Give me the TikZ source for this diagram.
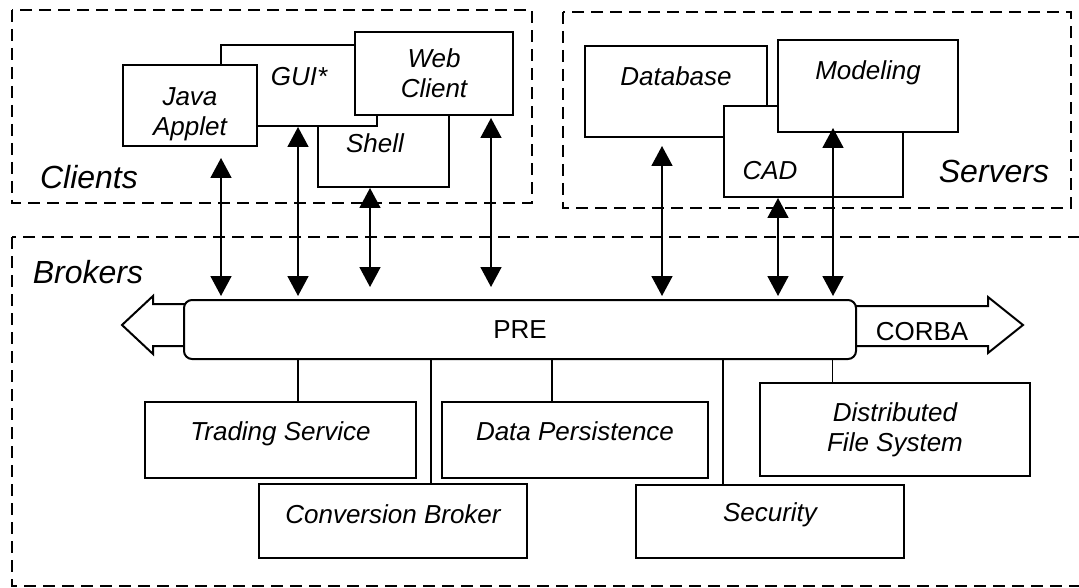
\documentclass[tikz,border=0pt]{standalone}
\usepackage{fontspec}
\setmainfont{Liberation Sans}
\usepackage{tikz}
\usetikzlibrary{shapes,arrows.meta,positioning}

\tikzset{
  group/.style={draw, line width=1.7pt, dash pattern=on 12pt off 7pt},
  grouplabel/.style={inner sep=0pt, font=\fontsize{32pt}{36pt}\selectfont\itshape},
  mbox/.style={draw, fill=white, line width=2pt, inner sep=0pt, align=center,
    font=\fontsize{26pt}{30pt}\selectfont\itshape},
  tbox/.style={mbox, text height=30pt, text depth=30pt},
  bus/.style={draw, fill=white, rounded corners=8pt, line width=2pt, inner sep=0pt,
    minimum width=672pt, minimum height=59pt, font=\fontsize{26pt}{30pt}\selectfont},
  plain/.style={inner sep=0pt, font=\fontsize{26pt}{30pt}\selectfont},
  pipe/.style={draw, line width=2pt},
  link/.style={{Triangle[length=20pt,width=21pt]}-{Triangle[length=20pt,width=21pt]}, line width=1.7pt},
  wire/.style={draw, line width=1.7pt}
}

\begin{document}
\begin{tikzpicture}[x=1pt,y=-1pt]
	\fill[white] (0,0) rectangle (1079,588);
	\useasboundingbox (0,0) rectangle (1079,588);
	\clip (0,0) rectangle (1079,588);

	% groups
	\draw[group] (12,10) rectangle (532,203);
	\draw[group] (563,12) rectangle (1071,208);
	\draw[group] (12,237) rectangle (1090,586);
	\node[grouplabel] (clients) at (89,177) {Clients};
	\node[grouplabel] (servers) at (994,171) {Servers};
	\node[grouplabel] (brokers) at (88,272) {Brokers};

	% bus with CORBA pipes
	\draw[pipe] (190,304) -- (153,304) -- (153,296) -- (122,325) -- (153,354) -- (153,346) -- (190,346);
	\draw[pipe] (850,306) -- (988,306) -- (988,297) -- (1023,325) -- (988,353) -- (988,346) -- (850,346);
	\node[plain] (corba) at (922,332) {CORBA};
	\node[bus] (pre) at (520,329.5) {PRE};

	% clients
	\node[tbox, minimum width=131pt, minimum height=87pt, text height=39.5pt, text depth=20.5pt,
	      text width=75pt, align=left] (shell) at (383.5,143.5) {Shell};
	\node[tbox, minimum width=156pt, minimum height=81pt] (gui) at (299,85.5) {GUI*};
	\node[mbox, minimum width=134pt, minimum height=81pt] (java) at (190,105.5) {\rule{0pt}{35pt}Java\\Applet};
	\node[mbox, minimum width=158pt, minimum height=83pt] (web) at (434,73.5) {Web\\Client};

	% servers
	\node[tbox, minimum width=182pt, minimum height=91pt, text height=24.5pt, text depth=35.5pt] (db) at (676,91.5) {Database};
	\node[tbox, minimum width=179pt, minimum height=91pt, text height=58.5pt, text depth=1.5pt,
	      text width=142pt, align=left] (cad) at (813.5,151.5) {CAD};
	\node[tbox, minimum width=180pt, minimum height=92pt, text height=24pt, text depth=36pt] (model) at (868,86) {Modeling};

	% brokers
	\node[tbox, minimum width=271pt, minimum height=76pt] (trade) at (280.5,440) {Trading Service};
	\node[tbox, minimum width=268pt, minimum height=74pt, text height=32pt, text depth=28pt] (conv) at (393,521) {Conversion Broker};
	\node[tbox, minimum width=266pt, minimum height=76pt] (persist) at (575,440) {Data Persistence};
	\node[tbox, minimum width=268pt, minimum height=73pt] (secur) at (770,521.5) {Security};
	\node[mbox, minimum width=270pt, minimum height=93pt] (dfs) at (895,429.5) {Distributed\\File System};

	\foreach \nd/\dx/\dy/\gap in {java/31/-11/3, gui/-1/0/3, shell/-13.5/0/12, web/57/-2/12,
	                              db/-14/-8/3, cad/-35.5/0/3, model/-35/5/3}{
		\coordinate (\nd-end) at ([xshift=\dx pt, yshift=\dy pt]\nd.south);
		\draw[link, shorten >=\gap pt] (\nd-end) -- (\nd-end |- pre.north);
	}
	\foreach \nd/\dx in {trade/17.5, conv/38, persist/-23, secur/-47, dfs/-62.5}{
		\coordinate (\nd-top) at ([xshift=\dx pt]\nd.north);
		\draw[wire] (\nd-top) -- (\nd-top |- pre.south);
	}
\end{tikzpicture}
\end{document}
